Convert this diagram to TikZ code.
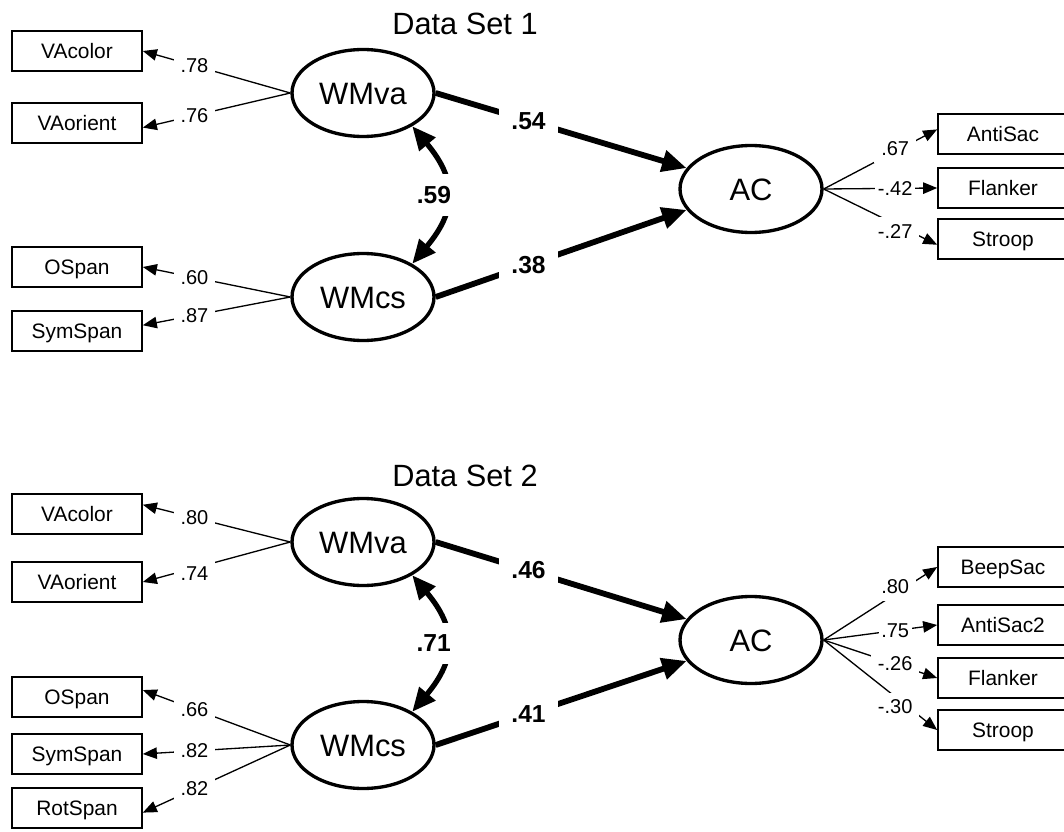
\documentclass[tikz,border=0pt]{standalone}
\usepackage{fontspec}
\setmainfont{Liberation Sans}
\usetikzlibrary{shapes.geometric, arrows.meta}
\tikzstyle{box} = [rectangle, draw, line width=0.95pt, minimum width=2.6cm, minimum height=0.8cm, inner sep=0pt, text height=8.5pt, text depth=0pt, font=\fontsize{11.9}{14}\selectfont]
\tikzstyle{latent} = [ellipse, draw, line width=1.9pt, minimum width=2.84cm, minimum height=1.74cm, inner sep=0pt, text height=12.6pt, text depth=0pt, font=\fontsize{17.6}{20}\selectfont]
\tikzstyle{title} = [font=\fontsize{17.5}{20}\selectfont]
\tikzstyle{num} = [fill=white, inner sep=4pt, font=\fontsize{11.4}{13}\selectfont]
\tikzstyle{bnum} = [fill=white, inner sep=7pt, font=\bfseries\fontsize{14}{16}\selectfont]
\tikzstyle{loading} = [line width=0.75pt, -{Triangle[length=8pt, width=6.5pt]}]
\tikzstyle{effect} = [line width=3.3pt, -{Triangle[length=14pt, width=12pt]}]
\tikzstyle{corr} = [line width=3pt, {Triangle[length=13.5pt, width=11.5pt]}-{Triangle[length=13.5pt, width=11.5pt]}]
\newcommand{\drawLoading}[4]
{
    \draw [loading] (#1) -- node [num, #4] {#3} (#2);
}

\begin{document}
\begin{tikzpicture}[x=0.02cm, y=-0.02cm]
\useasboundingbox (0,0) rectangle (1064,831);

% Data Set 1
\node (title1) [title] at (465,24) {Data Set 1};
\node (VAcolor1) [box] at (77,51) {VAcolor};
\node (VAorient1) [box] at (77,123) {VAorient};
\node (OSpan1) [box] at (77,267) {OSpan};
\node (SymSpan1) [box] at (77,331) {SymSpan};
\node (WMva1) [latent] at (363,93) {WMva};
\node (WMcs1) [latent] at (363,297) {WMcs};
\node (AC1) [latent] at (751,189) {AC};
\node (AntiSac1) [box] at (1003,134) {AntiSac};
\node (Flanker1) [box] at (1003,188) {Flanker};
\node (Stroop1) [box] at (1003,239) {Stroop};

\drawLoading{WMva1.west}{VAcolor1.east}{.78}{pos=0.65}
\drawLoading{WMva1.west}{VAorient1.356}{.76}{pos=0.65}
\drawLoading{WMcs1.west}{OSpan1.east}{.60}{pos=0.65}
\drawLoading{WMcs1.west}{SymSpan1.5}{.87}{pos=0.65}
\drawLoading{AC1.east}{AntiSac1.176}{.67}{pos=0.63, yshift=0.06cm}
\drawLoading{AC1.east}{Flanker1.west}{-.42}{pos=0.63, inner sep=1.5pt}
\drawLoading{AC1.east}{Stroop1.185}{-.27}{pos=0.63, yshift=-0.14cm}

\draw [effect] (WMva1.east) -- node [bnum, pos=0.37] {.54} (AC1.162);
\draw [effect] (WMcs1.east) -- node [bnum, pos=0.37] {.38} (AC1.198);
\draw [corr] (WMcs1.34) to [bend right=40, looseness=1.3] node [bnum, xshift=-0.24cm] {.59} (WMva1.-34);

% Data Set 2
\node (title2) [title] at (465,476) {Data Set 2};
\node (VAcolor2) [box] at (77,514) {VAcolor};
\node (VAorient2) [box] at (77,582) {VAorient};
\node (OSpan2) [box] at (77,697) {OSpan};
\node (SymSpan2) [box] at (77,754) {SymSpan};
\node (RotSpan2) [box] at (77,808) {RotSpan};
\node (WMva2) [latent] at (363,542) {WMva};
\node (WMcs2) [latent] at (363,745) {WMcs};
\node (AC2) [latent] at (751,640) {AC};
\node (BeepSac2) [box] at (1003,567) {BeepSac};
\node (AntiSacB2) [box] at (1003,625) {AntiSac2};
\node (Flanker2) [box] at (1003,678) {Flanker};
\node (Stroop2) [box] at (1003,730) {Stroop};

\drawLoading{WMva2.west}{VAcolor2.8}{.80}{pos=0.65}
\drawLoading{WMva2.west}{VAorient2.east}{.74}{pos=0.65, yshift=-0.12cm}
\drawLoading{WMcs2.west}{OSpan2.6}{.66}{pos=0.65}
\drawLoading{WMcs2.west}{SymSpan2.east}{.82}{pos=0.65}
\drawLoading{WMcs2.west}{RotSpan2.356}{.82}{pos=0.65}
\drawLoading{AC2.east}{BeepSac2.west}{.80}{pos=0.63, yshift=0.14cm}
\drawLoading{AC2.east}{AntiSacB2.west}{.75}{pos=0.63, inner sep=1.5pt}
\drawLoading{AC2.east}{Flanker2.west}{-.26}{pos=0.63}
\drawLoading{AC2.east}{Stroop2.west}{-.30}{pos=0.63, yshift=-0.2cm}

\draw [effect] (WMva2.east) -- node [bnum, pos=0.37] {.46} (AC2.162);
\draw [effect] (WMcs2.east) -- node [bnum, pos=0.37] {.41} (AC2.198);
\draw [corr] (WMcs2.34) to [bend right=40, looseness=1.3] node [bnum, xshift=-0.24cm] {.71} (WMva2.-34);

\end{tikzpicture}
\end{document}
